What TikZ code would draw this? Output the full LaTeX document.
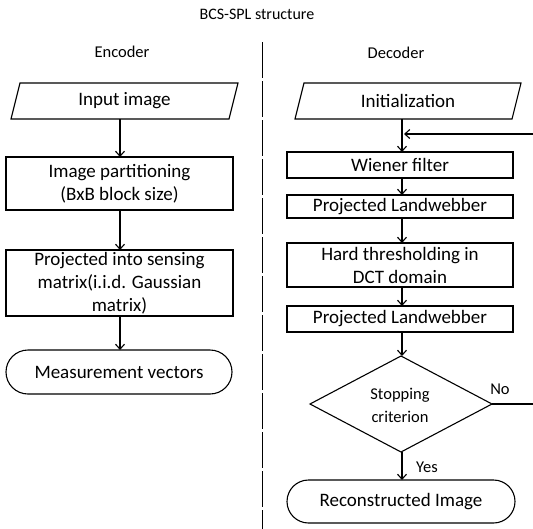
\documentclass[tikz,border=0pt]{standalone}
\usepackage{fontspec}
\setmainfont{Carlito}
\usetikzlibrary{arrows.meta,shapes.geometric,shapes.misc}
\begin{document}
\begin{tikzpicture}[x=1pt,y=-1pt,
  every node/.style={inner sep=0pt,outer sep=0pt},
  boxtxt/.style={font=\fontsize{19}{23}\selectfont,align=center},
  procbox/.style={boxtxt,draw,line width=1.1pt,rectangle,minimum width=227pt},
  iobox/.style={boxtxt,minimum width=218pt,minimum height=36pt},
  termbox/.style={boxtxt,draw,line width=1.1pt,rounded rectangle,minimum width=226pt},
  decbox/.style={draw,line width=1.1pt,diamond,minimum width=182pt,minimum height=96pt},
  smalltxt/.style={font=\fontsize{16.5}{20}\selectfont},
  flow/.style={line width=1.1pt,-{Straight Barb[length=5pt,width=9pt,line width=1.1pt]}},
  plain/.style={line width=1.1pt}
]
\useasboundingbox (0,0) rectangle (533,528);

% titles
\node[font=\fontsize{16}{19}\selectfont] (title) at (257,14) {BCS-SPL structure};
\node[smalltxt] (enc) at (122,52) {Encoder};
\node[smalltxt] (dec) at (396,53) {Decoder};
\coordinate (sepTop) at (262,42);
\coordinate (sepBot) at (262,530);
\draw[line width=0.8pt,dash pattern=on 36pt off 3pt] (sepTop) -- (sepBot);

% encoder
\node[iobox] (in) at (124.5,101) {Input image};
\draw[plain] ([xshift=4.5pt]in.north west) -- ([xshift=4.5pt]in.north east)
  -- ([xshift=-4.5pt]in.south east) -- ([xshift=-4.5pt]in.south west) -- cycle;
\node[procbox,minimum height=53pt] (part) at (119.5,183.5) {Image partitioning\\(BxB block size)};
\node[procbox,minimum height=66pt] (proj) at (119.5,283) {Projected into sensing\\matrix(i.i.d. Gaussian\\matrix)};
\node[termbox,minimum height=44pt] (meas) at (119,372) {Measurement vectors};

\draw[flow] (in.south -| 120,0) -- (part.north -| 120,0);
\draw[flow] (part.south -| 120,0) -- (proj.north -| 120,0);
\draw[flow] (proj.south -| 120,0) -- (meas.north -| 120,0);

% decoder
\node[iobox,minimum width=217pt] (init) at (408,101) {Initialization};
\draw[plain] ([xshift=4.5pt]init.north west) -- ([xshift=4.5pt]init.north east)
  -- ([xshift=-4.5pt]init.south east) -- ([xshift=-4.5pt]init.south west) -- cycle;
\node[procbox,minimum width=226pt,minimum height=26pt] (wien) at (400,165) {Wiener filter};
\node[procbox,minimum width=226pt,minimum height=23pt] (pl1) at (400,206.5) {Projected Landwebber};
\node[procbox,minimum width=226pt,minimum height=44pt] (hard) at (400,265) {Hard thresholding in\\DCT domain};
\node[procbox,minimum width=226pt,minimum height=26pt] (pl2) at (400,319) {Projected Landwebber};
\node[decbox] (stop) at (401,404) {};
\node[font=\fontsize{16.5}{23}\selectfont,align=center] (stoptxt) at (400,405) {Stopping\\criterion};
\node[termbox,minimum width=228pt,minimum height=43pt] (rec) at (401,501.5) {Reconstructed Image};

\draw[flow] (init.south -| 402,0) -- (wien.north -| 402,0);
\draw[flow] (wien.south -| 402,0) -- (pl1.north -| 402,0);
\draw[flow] (pl1.south -| 402,0) -- (hard.north -| 402,0);
\draw[flow] (hard.south -| 402,0) -- (pl2.north -| 402,0);
\draw[flow] (pl2.south -| 402,0) -- (stop.north -| 402,0);
\draw[flow] (stop.south -| 402,0) -- (rec.north -| 402,0);

\coordinate (fbR) at (536,404);
\coordinate (fbT) at (536,134);
\coordinate (fbEnd) at (404,134);
\draw[plain] (stop.east) -- (fbR);
\draw[flow] (fbR) -- (fbT) -- (fbEnd);

\node[smalltxt] (no) at (500,389) {No};
\node[smalltxt] (yes) at (427,467) {Yes};
\end{tikzpicture}
\end{document}
